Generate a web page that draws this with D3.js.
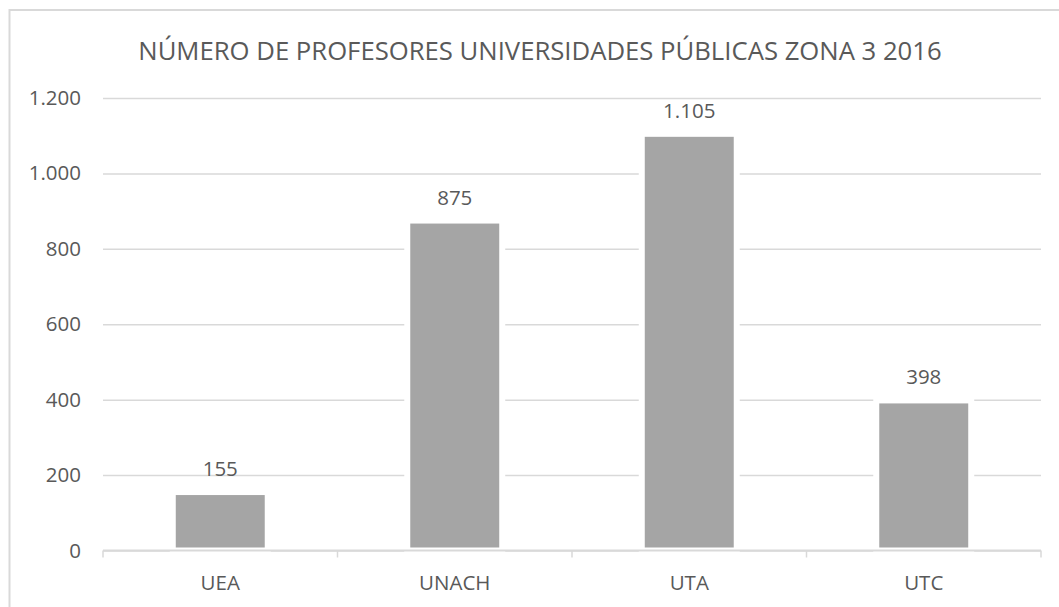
<!DOCTYPE html>
<html>
<head>
<meta charset="utf-8">
<script src="https://cdn.jsdelivr.net/npm/d3@7"></script>
<style>
  body { margin: 0; background: #fff; }
  text { font-family: "Open Sans", "Noto Sans", sans-serif; fill: #595959; }
</style>
</head>
<body>
<div id="chart"></div>
<script>
// data
const universities = ["UEA", "UNACH", "UTA", "UTC"];
const professors = [155, 875, 1105, 398];
const yTicks = [0, 200, 400, 600, 800, 1000, 1200];
const chartTitle = "NÚMERO DE PROFESORES UNIVERSIDADES PÚBLICAS ZONA 3 2016";

const W = 1059, H = 607;
const plot = { left: 103, right: 1041, top: 98, bottom: 550.5 };

// spanish style number format: 1.200
const fmt = d3.formatLocale({ decimal: ",", thousands: ".", grouping: [3], currency: ["", "€"] }).format(",d");

let svg = d3.select("#chart").append("svg")
    .attr("width", W)
    .attr("height", H);

// chart border (runs off the right / bottom of the image)
svg.append("rect")
    .attr("x", 9.5).attr("y", 10)
    .attr("width", 1200).attr("height", 800)
    .attr("fill", "none")
    .attr("stroke", "#d9d9d9")
    .attr("stroke-width", 2);

// scales
let x = d3.scaleBand()
    .domain(universities)
    .range([plot.left, plot.right])
    .paddingInner(0.595)
    .paddingOuter(0.2975);

let y = d3.scaleLinear()
    .domain([0, 1200])
    .range([plot.bottom, plot.top]);

// title
svg.append("text")
    .attr("x", 540)
    .attr("y", 60)
    .attr("text-anchor", "middle")
    .style("font-size", "25.7px")
    .text(chartTitle);

// gridlines + y labels
let yAxis = d3.axisLeft(y)
    .tickValues(yTicks)
    .tickFormat(fmt)
    .tickSize(-(plot.right - plot.left))
    .tickPadding(22);

let gy = svg.append("g")
    .attr("transform", `translate(${plot.left},0)`)
    .call(yAxis);
gy.select(".domain").remove();
gy.selectAll("line").attr("stroke", "#d9d9d9").attr("stroke-width", 1.5);
gy.selectAll("text").style("font-size", "20.5px").attr("fill", "#595959");

// bars, white outline hides the gridlines around them
let data = universities.map((u, i) => ({ name: u, value: professors[i] }));

svg.append("g").selectAll("rect")
    .data(data)
    .enter().append("rect")
    .attr("x", d => x(d.name))
    .attr("width", x.bandwidth())
    .attr("y", d => y(d.value))
    .attr("height", d => y(0) - y(d.value))
    .attr("fill", "#a5a5a5")
    .attr("stroke", "#fff")
    .attr("stroke-width", 6);

// value labels
svg.append("g").selectAll("text")
    .data(data)
    .enter().append("text")
    .attr("x", d => x(d.name) + x.bandwidth() / 2)
    .attr("y", d => y(d.value) - 16)
    .attr("text-anchor", "middle")
    .style("font-size", "20.5px")
    .text(d => fmt(d.value));

// x axis with ticks between categories
let gx = svg.append("g")
    .attr("transform", `translate(0,${plot.bottom})`);

gx.append("line")
    .attr("x1", plot.left).attr("x2", plot.right)
    .attr("stroke", "#d9d9d9").attr("stroke-width", 2);

let step = x.step();
gx.selectAll("line.tick")
    .data(d3.range(universities.length + 1))
    .enter().append("line")
    .attr("class", "tick")
    .attr("x1", i => plot.left + i * step)
    .attr("x2", i => plot.left + i * step)
    .attr("y1", 0).attr("y2", 7)
    .attr("stroke", "#d9d9d9").attr("stroke-width", 1.5);

gx.selectAll("text")
    .data(universities)
    .enter().append("text")
    .attr("x", d => x(d) + x.bandwidth() / 2)
    .attr("y", 39.5)
    .attr("text-anchor", "middle")
    .style("font-size", "20.5px")
    .text(d => d);
</script>
</body>
</html>
